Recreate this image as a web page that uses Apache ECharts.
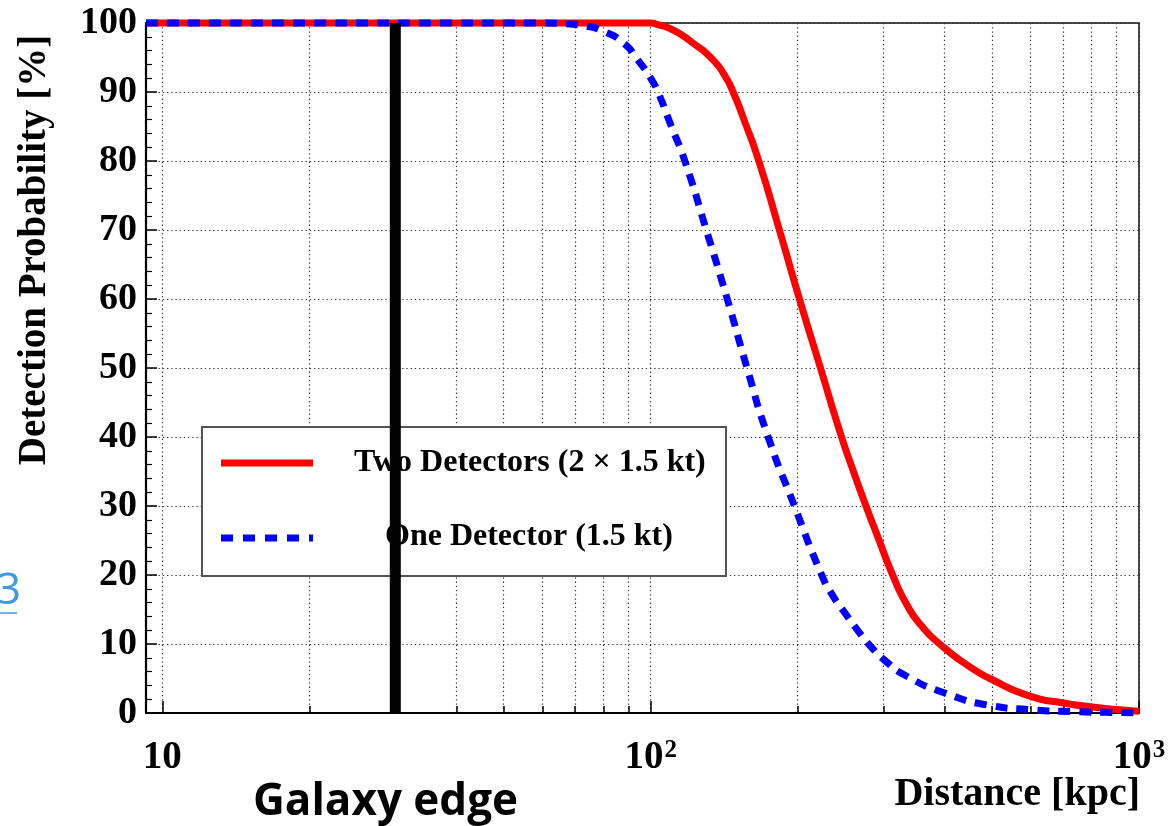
<!DOCTYPE html>
<html>
<head>
<meta charset="utf-8">
<script src="https://cdn.jsdelivr.net/npm/echarts@6/dist/echarts.min.js"></script>
<style>
  html, body { margin: 0; padding: 0; background: #fff; }
  #chart { width: 1176px; height: 826px; }
</style>
</head>
<body>
<div id="chart"></div>
<script>
// Supernova detection probability versus distance (kpc)
const seriesNames = ['Two Detectors (2 \u00d7 1.5 kt)', 'One Detector (1.5 kt)'];

// Two detectors (2 x 1.5 kt)
const twoDetDistance = [9.26, 20, 40, 60, 80, 90, 100, 103, 111, 122, 134, 142, 147.5, 156, 166.5, 183.5,
  201.7, 222.7, 246, 259, 276, 293, 313, 334, 358, 393, 448, 495, 600, 700, 800, 900, 1000];
const twoDetProb = [100, 100, 100, 100, 100, 100, 100, 99.8, 99.0, 97.1, 94.7, 92.3, 90, 85.6, 80, 70,
  60, 50, 40, 35.4, 30, 25.2, 20, 15.8, 12.7, 9.85, 6.8, 5.0, 2.4, 1.45, 0.87, 0.5, 0.25];

// One detector (1.5 kt)
const oneDetDistance = [9.26, 20, 40, 60, 66, 73, 80, 88, 94, 100, 103.5, 110, 117.5, 130, 143.5, 157.5, 174, 197,
  224, 236, 250, 264, 281, 303, 333, 400, 500, 600, 730, 850, 1000];
const oneDetProb = [100, 100, 100, 100, 99.9, 99.6, 98.8, 97.1, 94.7, 92.0, 90, 85.2, 80, 70, 60, 50, 40, 30,
  20, 17.0, 14.5, 12.2, 9.8, 7.5, 5.4, 2.9, 1.05, 0.48, 0.2, 0.1, 0.05];

// Edge of the Galaxy (kpc)
const galaxyEdgeKpc = 30;
const galaxyEdgeProb = [0, 100];

// Axis range and tick positions
const axisMinKpc = 9.26;
const axisMaxKpc = 1000;
const gridDistances = [10, 20, 30, 40, 50, 60, 70, 80, 90, 100, 200, 300, 400, 500, 600, 700, 800, 900, 1000];
const decadeDistances = [10, 100, 1000];
const probTicks = { min: 0, max: 100, step: 10 };

const log10 = Math.log10;
const toXY = (xs, ys) => xs.map((x, i) => [log10(x), ys[i]]);

const serif = '"Liberation Serif", "Times New Roman", serif';
const black = '#000';
const dotted = { color: '#333', width: 1.2, type: [1.3, 2.9] };

const chart = echarts.init(document.getElementById('chart'), null, { renderer: 'canvas' });

const xCommon = {
  type: 'value',
  min: log10(axisMinKpc),
  max: log10(axisMaxKpc),
  position: 'bottom'
};

const option = {
  backgroundColor: '#fff',
  animation: false,
  grid: {
    left: 146, right: 37, top: 23, bottom: 113,
    show: true, borderColor: '#111', borderWidth: 1.5, backgroundColor: 'transparent'
  },
  xAxis: [
    Object.assign({}, xCommon, {
      axisLine: { show: true, lineStyle: { color: black, width: 2.2 } },
      axisTick: { show: true, inside: true, length: 7, lineStyle: { color: black, width: 1.5 },
        customValues: gridDistances.map(log10) },
      splitLine: { show: true, lineStyle: dotted },
      axisLabel: {
        show: true,
        customValues: decadeDistances.map(log10),
        margin: 25,
        color: black,
        fontFamily: serif,
        fontWeight: 'bold',
        fontSize: 39,
        formatter: v => {
          const p = Math.round(v);
          return p === 1 ? '10' : '10{sup|' + p + '}';
        },
        rich: {
          sup: { fontFamily: serif, fontWeight: 'bold', fontSize: 25, verticalAlign: 'top', lineHeight: 39, color: black, padding: [0, 0, 0, 1] }
        }
      }
    }),
    Object.assign({}, xCommon, {
      axisLine: { show: false },
      axisTick: { show: true, inside: true, length: 12, lineStyle: { color: black, width: 1.5 },
        customValues: decadeDistances.map(log10) },
      splitLine: { show: false },
      axisLabel: { show: false }
    })
  ],
  yAxis: {
    type: 'value',
    min: probTicks.min,
    max: probTicks.max,
    interval: probTicks.step,
    axisLine: { show: true, lineStyle: { color: black, width: 2.2 } },
    axisTick: { show: true, inside: true, length: 11, lineStyle: { color: black, width: 1.5 } },
    minorTick: { show: true, splitNumber: 5, length: 6, lineStyle: { color: black, width: 1.2 } },
    splitLine: { show: true, lineStyle: dotted },
    axisLabel: {
      margin: 9,
      color: black,
      fontFamily: serif,
      fontWeight: 'bold',
      fontSize: 38
    }
  },
  series: [
    {
      name: seriesNames[0],
      type: 'line',
      data: toXY(twoDetDistance, twoDetProb),
      smooth: 0.6,
      showSymbol: false,
      clip: false,
      z: 3,
      lineStyle: { color: '#ff0000', width: 7 }
    },
    {
      name: seriesNames[1],
      type: 'line',
      data: toXY(oneDetDistance, oneDetProb),
      smooth: 0.6,
      showSymbol: false,
      clip: false,
      z: 4,
      lineStyle: { color: '#0000ff', width: 7, type: [12, 9] }
    },
    {
      name: 'Galaxy edge',
      type: 'line',
      data: galaxyEdgeProb.map(p => [log10(galaxyEdgeKpc), p]),
      showSymbol: false,
      clip: false,
      z: 20,
      lineStyle: { color: black, width: 11, cap: 'butt' }
    }
  ],
  graphic: [
    // legend box
    { type: 'rect', z: 10, shape: { x: 202, y: 427, width: 524, height: 149 },
      style: { fill: '#fff', stroke: '#555', lineWidth: 2 } },
    { type: 'line', z: 11, shape: { x1: 221, y1: 463, x2: 313, y2: 463 },
      style: { stroke: '#ff0000', lineWidth: 7 } },
    { type: 'text', z: 11, x: 354, y: 463,
      style: { text: seriesNames[0], font: 'bold 32px ' + serif, fill: black, textVerticalAlign: 'middle' } },
    { type: 'line', z: 11, shape: { x1: 221, y1: 538, x2: 313, y2: 538 },
      style: { stroke: '#0000ff', lineWidth: 7, lineDash: [12, 10] } },
    { type: 'text', z: 11, x: 385, y: 537,
      style: { text: seriesNames[1], font: 'bold 32px ' + serif, fill: black, textVerticalAlign: 'middle' } },
    // axis titles
    { type: 'text', z: 5, x: 35, y: 250, rotation: Math.PI / 2,
      style: { text: 'Detection Probability [%]', font: 'bold 39px ' + serif, fill: black,
        textAlign: 'center', textVerticalAlign: 'middle' } },
    { type: 'text', z: 5, x: 1140, y: 795,
      style: { text: 'Distance [kpc]', font: 'bold 40px ' + serif, fill: black,
        textAlign: 'right', textVerticalAlign: 'middle' } },
    // annotation under the galaxy edge line
    { type: 'text', z: 5, x: 253, y: 802,
      style: { text: 'Galaxy edge', font: 'bold 44px "Open Sans", "Liberation Sans", sans-serif', fill: black,
        textAlign: 'left', textVerticalAlign: 'middle' } },
    // stray link fragment at the left margin
    { type: 'text', z: 5, x: -4, y: 591,
      style: { text: '3', font: '44px "Open Sans", "Liberation Sans", sans-serif', fill: '#3b9ae1',
        textAlign: 'left', textVerticalAlign: 'middle' } },
    { type: 'line', z: 5, shape: { x1: 0, y1: 613, x2: 17, y2: 613 },
      style: { stroke: '#3b9ae1', lineWidth: 1.5 } }
  ]
};

chart.setOption(option);
</script>
</body>
</html>
